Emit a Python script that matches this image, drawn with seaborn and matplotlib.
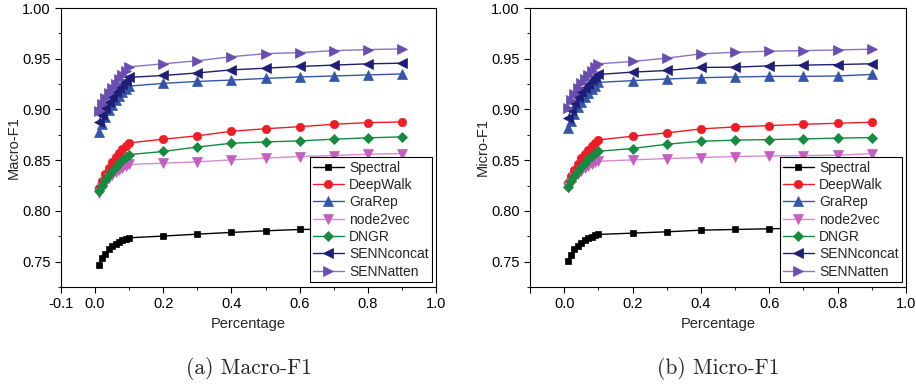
import numpy as np
import pandas as pd
import matplotlib
matplotlib.use("Agg")
import matplotlib.pyplot as plt
import seaborn as sns
from matplotlib.ticker import MultipleLocator, FixedLocator

sns.set_theme(style="ticks")
plt.rcParams['font.family'] = ['Liberation Sans', 'DejaVu Sans']

percentage = [0.01, 0.02, 0.03, 0.04, 0.05, 0.06, 0.07, 0.08, 0.09, 0.1,
              0.2, 0.3, 0.4, 0.5, 0.6, 0.7, 0.8, 0.9]
methods = ["Spectral", "DeepWalk", "GraRep", "node2vec", "DNGR", "SENNconcat", "SENNatten"]

# Macro-F1 values
macro_spectral = [0.747, 0.754, 0.758, 0.762, 0.765, 0.767, 0.769, 0.771, 0.772, 0.7735,
                  0.7752, 0.7771, 0.7788, 0.7804, 0.7817, 0.782, 0.783, 0.784]
macro_deepwalk = [0.823, 0.829, 0.836, 0.842, 0.848, 0.853, 0.857, 0.861, 0.864, 0.867,
                  0.8707, 0.874, 0.8785, 0.881, 0.883, 0.8854, 0.887, 0.8877]
macro_grarep = [0.878, 0.886, 0.893, 0.899, 0.904, 0.909, 0.913, 0.917, 0.920, 0.923,
                0.9257, 0.9276, 0.929, 0.9306, 0.932, 0.933, 0.934, 0.935]
macro_node2vec = [0.818, 0.823, 0.828, 0.832, 0.835, 0.838, 0.840, 0.842, 0.844, 0.8458,
                  0.847, 0.8484, 0.8503, 0.852, 0.8536, 0.8546, 0.8559, 0.8565]
macro_dngr = [0.8196, 0.825, 0.830, 0.835, 0.839, 0.843, 0.847, 0.850, 0.853, 0.8555,
              0.8586, 0.863, 0.8667, 0.868, 0.869, 0.8707, 0.872, 0.873]
macro_sennconcat = [0.888, 0.895, 0.901, 0.907, 0.912, 0.917, 0.921, 0.925, 0.928, 0.9316,
                    0.9335, 0.936, 0.939, 0.9407, 0.9424, 0.9437, 0.945, 0.9456]
macro_sennatten = [0.898, 0.905, 0.911, 0.916, 0.921, 0.925, 0.930, 0.934, 0.938, 0.942,
                   0.945, 0.948, 0.952, 0.955, 0.956, 0.958, 0.959, 0.9597]

# Micro-F1 values
micro_spectral = [0.7507, 0.757, 0.762, 0.765, 0.768, 0.771, 0.773, 0.7745, 0.7758, 0.7768,
                  0.7781, 0.7794, 0.781, 0.7817, 0.7824, 0.783, 0.7835, 0.784]
micro_deepwalk = [0.8274, 0.834, 0.840, 0.846, 0.852, 0.856, 0.860, 0.864, 0.867, 0.870,
                  0.8736, 0.8769, 0.8808, 0.8828, 0.8841, 0.8854, 0.8864, 0.8874]
micro_grarep = [0.8815, 0.889, 0.896, 0.902, 0.907, 0.912, 0.916, 0.920, 0.9235, 0.9267,
                0.9284, 0.930, 0.9313, 0.932, 0.9326, 0.9326, 0.933, 0.9345]
micro_node2vec = [0.8235, 0.828, 0.832, 0.836, 0.839, 0.842, 0.844, 0.846, 0.848, 0.849,
                  0.8503, 0.8516, 0.8526, 0.8536, 0.8542, 0.8546, 0.8549, 0.8565]
micro_dngr = [0.8238, 0.829, 0.834, 0.839, 0.843, 0.847, 0.851, 0.854, 0.857, 0.8588,
              0.8615, 0.8657, 0.8687, 0.8697, 0.8703, 0.871, 0.8717, 0.8723]
micro_sennconcat = [0.8916, 0.899, 0.906, 0.912, 0.917, 0.921, 0.925, 0.929, 0.932, 0.9345,
                    0.9368, 0.9384, 0.9414, 0.9417, 0.943, 0.9437, 0.9443, 0.945]
micro_sennatten = [0.9018, 0.909, 0.915, 0.921, 0.926, 0.930, 0.934, 0.938, 0.942, 0.945,
                   0.9473, 0.9506, 0.9548, 0.9564, 0.9574, 0.958, 0.9587, 0.9594]

x_ticks = [-0.1, 0.0, 0.2, 0.4, 0.6, 0.8, 1.0]
y_ticks = [0.75, 0.80, 0.85, 0.90, 0.95, 1.00]

macro = [macro_spectral, macro_deepwalk, macro_grarep, macro_node2vec,
         macro_dngr, macro_sennconcat, macro_sennatten]
micro = [micro_spectral, micro_deepwalk, micro_grarep, micro_node2vec,
         micro_dngr, micro_sennconcat, micro_sennatten]

colors = ["#000000", "#ee1c24", "#3556a8", "#c45ec0", "#168a3e", "#1e1e78", "#6a4db0"]
line_colors = ["#000000", "#ee1c24", "#3556a8", "#d58ad2", "#168a3e", "#1e1e78", "#8a72c4"]
markers = ["s", "o", "^", "v", "D", "<", ">"]
msizes = [5, 6, 6.5, 6.5, 5.5, 6.5, 6.5]

fig = plt.figure(figsize=(9.16, 3.86), dpi=100)
ax1 = fig.add_axes([61/916, 1-287/386, 375/916, 279/386])
ax2 = fig.add_axes([530/916, 1-287/386, 376/916, 279/386])

def draw(ax, data, ylabel, caption, show_neg):
    for name, vals, c, lc, m, ms in zip(methods, data, colors, line_colors, markers, msizes):
        df = pd.DataFrame({"Percentage": percentage, "val": vals})
        sns.lineplot(data=df, x="Percentage", y="val", ax=ax, color=lc, lw=1.0,
                     marker=m, markersize=ms, markerfacecolor=c, markeredgecolor=c,
                     markeredgewidth=0.5, label=name)
    ax.set_xlim(-0.1, 1.0)
    ax.set_ylim(0.725, 1.0)
    ax.xaxis.set_major_locator(FixedLocator(x_ticks))
    ax.set_xticklabels([("%.1f" % t if (show_neg or t >= 0) else "") for t in x_ticks])
    ax.xaxis.set_minor_locator(MultipleLocator(0.1))
    ax.yaxis.set_major_locator(FixedLocator(y_ticks))
    ax.set_yticklabels(["%.2f" % t for t in y_ticks])
    ax.yaxis.set_minor_locator(MultipleLocator(0.025))
    ax.tick_params(which="major", direction="out", length=4, width=0.8, labelsize=10.5,
                   colors="black", top=False, right=False)
    ax.tick_params(which="minor", direction="out", length=2.5, width=0.8, top=False, right=False)
    for s in ax.spines.values():
        s.set_visible(True)
        s.set_color("black")
        s.set_linewidth(0.8)
    ax.set_xlabel("Percentage", fontsize=10.5, labelpad=4)
    ax.set_ylabel(ylabel, fontsize=10.5, labelpad=1)
    leg = ax.legend(loc="lower right", bbox_to_anchor=(0.99, 0.018), borderaxespad=0,
                    frameon=True, fancybox=False, framealpha=1, edgecolor="black",
                    fontsize=10, handlelength=2.2, handletextpad=0.4, labelspacing=0.24,
                    borderpad=0.25)
    leg.get_frame().set_linewidth(0.8)
    leg.set_zorder(10)
    bb = ax.get_position()
    fig.text((bb.x0 + bb.x1) / 2, 1 - 368/386, caption, ha="center", va="center",
             fontsize=15.5, family=["cmr10", "DejaVu Serif"])

draw(ax1, macro, "Macro-F1", "(a) Macro-F1", True)
draw(ax2, micro, "Micro-F1", "(b) Micro-F1", False)

fig.savefig("out.png", dpi=100)
